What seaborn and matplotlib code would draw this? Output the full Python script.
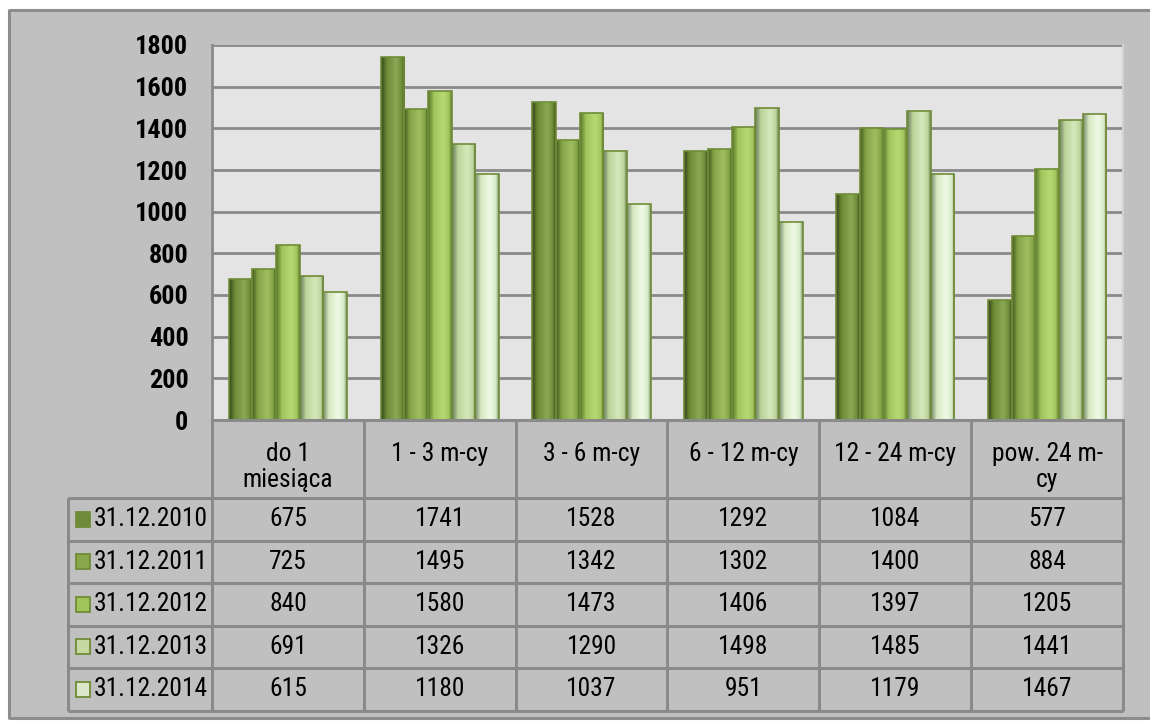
import os
import numpy as np
import pandas as pd
import matplotlib
matplotlib.use("Agg")
import matplotlib.pyplot as plt
import seaborn as sns
from matplotlib import font_manager
from matplotlib.font_manager import FontProperties
from matplotlib.patches import Rectangle
from matplotlib.colors import LinearSegmentedColormap

# ---- data -------------------------------------------------------------
categories = ["do 1\nmiesiąca", "1 - 3 m-cy", "3 - 6 m-cy",
              "6 - 12 m-cy", "12 - 24 m-cy", "pow. 24 m-\ncy"]
series_labels = ["31.12.2010", "31.12.2011", "31.12.2012",
                 "31.12.2013", "31.12.2014"]
v2010 = [675, 1741, 1528, 1292, 1084, 577]
v2011 = [725, 1495, 1342, 1302, 1400, 884]
v2012 = [840, 1580, 1473, 1406, 1397, 1205]
v2013 = [691, 1326, 1290, 1498, 1485, 1441]
v2014 = [615, 1180, 1037, 951, 1179, 1467]
y_ticks = [0, 200, 400, 600, 800, 1000, 1200, 1400, 1600, 1800]

series_values = [v2010, v2011, v2012, v2013, v2014]


# ---- narrow font lookup -----------------------------------------------
def narrow_font(bold):
    """Return (FontProperties, size scale) for the narrowest good sans."""
    fonts = font_manager.fontManager.ttflist

    def is_bold(f):
        w = f.weight if isinstance(f.weight, int) else \
            {"bold": 700, "normal": 400, "regular": 400}.get(str(f.weight), 400)
        return (w >= 600) == bold and f.style == "normal"

    # (predicate, size factor)
    prefs = [
        (lambda f: "Narrow" in os.path.basename(f.fname)
         and ("Liberation" in f.name or "Arial" in f.name), 1.0),
        (lambda f: f.name.startswith("Noto Sans") and "CJK" not in f.name
         and f.stretch == "condensed"
         and "Condensed" in os.path.basename(f.fname)
         and "Extra" not in os.path.basename(f.fname)
         and "Semi" not in os.path.basename(f.fname), 0.95),
        (lambda f: f.name.startswith("Open Sans") and "Condensed"
         in os.path.basename(f.fname) and "Semi" not in
         os.path.basename(f.fname), 0.92),
        (lambda f: "RobotoCondensed" in os.path.basename(f.fname), 1.02),
        (lambda f: "DejaVuSansCondensed" in os.path.basename(f.fname)
         and "Oblique" not in os.path.basename(f.fname), 0.86),
    ]
    for pred, scale in prefs:
        for f in fonts:
            try:
                if pred(f) and is_bold(f):
                    return FontProperties(fname=f.fname), scale
            except Exception:
                continue
    return FontProperties(family=["Liberation Sans", "DejaVu Sans"],
                          weight="bold" if bold else "normal"), 0.82


fp_reg, scale_reg = narrow_font(False)
fp_bold, scale_bold = narrow_font(True)
SIZE_CELL = 18 * scale_reg
SIZE_TICK = 18.5 * scale_bold


def fprop(base, size):
    p = base.copy()
    p.set_size(size)
    return p


swatch = ["#6f8a3a", "#89a64a", "#a2c25a", "#c5d9a2", "#dae7c9"]
# dark edge / body / highlight for the cylinder-like shading of each series
shades = [
    ("#34451a", "#6e8b37", "#8ca857"),
    ("#435a20", "#86a547", "#a0be61"),
    ("#557328", "#a1c55b", "#b8d974"),
    ("#687858", "#bcd49b", "#d5e8ba"),
    ("#7a876e", "#d6eac2", "#f0f9e7"),
]
edge_col = "#6f8c36"
bg_col = "#c0c0c0"
plot_bg = "#e4e4e4"
line_col = "#8a8a8a"

W, H = 1150, 722
fig = plt.figure(figsize=(W / 100, H / 100), dpi=100)
fig.patch.set_facecolor("white")

# ---- background frame -------------------------------------------------
bg = fig.add_axes([0, 0, 1, 1], zorder=-5)
bg.axis("off")
bg.add_patch(Rectangle((9, 10), W, 708, facecolor=bg_col,
                       edgecolor="none"))
frame_kw = dict(color="#8c8c8c", lw=2.2, solid_capstyle="butt")
bg.plot([9, W + 5], [10, 10], **frame_kw)
bg.plot([9, 9], [9, 719], **frame_kw)
bg.plot([9, W + 5], [718, 718], **frame_kw)
shadow = LinearSegmentedColormap.from_list("sh", ["#8e8e8e", bg_col])
bg.imshow(np.linspace(0, 1, 64)[None, :], extent=(10, 26, 717, 11),
          cmap=shadow, aspect="auto", interpolation="bilinear")
bg.imshow(np.linspace(0, 1, 64)[:, None], extent=(10, W + 5, 11, 18),
          cmap=shadow, aspect="auto", interpolation="bilinear")
bg.imshow(np.linspace(1, 0, 64)[:, None], extent=(10, W + 5, 708, 717),
          cmap=shadow, aspect="auto", interpolation="bilinear")
bg.set_xlim(0, W)
bg.set_ylim(H, 0)

# ---- bars -------------------------------------------------------------
ax_left, ax_right, ax_top, ax_bottom = 212, 1123, 45, 420
ax = fig.add_axes([ax_left / W, 1 - ax_bottom / H,
                   (ax_right - ax_left) / W, (ax_bottom - ax_top) / H])
ax.set_facecolor(plot_bg)

df = pd.DataFrame({
    "kategoria": np.repeat(categories, len(series_labels)),
    "stan": series_labels * len(categories),
    "liczba": [series_values[s][c] for c in range(len(categories))
               for s in range(len(series_labels))],
})
sns.barplot(data=df, x="kategoria", y="liczba", hue="stan",
            order=categories, hue_order=series_labels,
            palette=swatch, saturation=1, width=0.78, gap=0,
            edgecolor=edge_col, linewidth=1.2, legend=False, ax=ax,
            zorder=2)

profile = np.linspace(0, 1, 128)[None, :]
for container, (dark, body, light) in zip(ax.containers, shades):
    cmap = LinearSegmentedColormap.from_list(
        "cyl", [(0.0, dark), (0.25, body), (0.64, light), (0.88, body),
                (1.0, dark)])
    for bar in container:
        x0, w, h = bar.get_x(), bar.get_width(), bar.get_height()
        im = ax.imshow(profile, extent=(x0, x0 + w, 0, h), cmap=cmap,
                       aspect="auto", interpolation="bilinear", zorder=2.5)
        im.set_clip_path(bar)
        bar.set_facecolor("none")
        bar.set_zorder(3)

ax.set_xlim(-0.5, len(categories) - 0.5)
ax.set_ylim(0, 1800)
ax.set_aspect("auto")
ax.set_yticks(y_ticks)
ax.set_yticklabels([str(t) for t in y_ticks])
for lab in ax.get_yticklabels():
    lab.set_fontproperties(fprop(fp_bold, SIZE_TICK))
ax.tick_params(axis="y", length=0, pad=17)
ax.set_xticks([])
ax.set_xlabel("")
ax.set_ylabel("")
ax.grid(axis="y", color=line_col, linewidth=2.0, zorder=1)
ax.set_axisbelow(True)
for side in ("top", "bottom"):
    ax.spines[side].set_visible(False)
ax.spines["left"].set_color(line_col)
ax.spines["left"].set_linewidth(2.0)
ax.spines["right"].set_color("#d2d2d2")
ax.spines["right"].set_linewidth(1.5)

# ---- data table below the axis ----------------------------------------
tab = fig.add_axes([0, 0, 1, 1], zorder=4)
tab.set_xlim(0, W)
tab.set_ylim(0, H)
tab.axis("off")
tab.patch.set_alpha(0)

to_px = ax.transData
col_edges = [to_px.transform((i - 0.5, 0))[0] for i in range(len(categories) + 1)]
y_axis0 = to_px.transform((0, 0))[1]
header_h = 78
row_h = 42.5
label_left = 68
row_tops = [y_axis0 - header_h - r * row_h for r in range(len(series_labels) + 1)]
table_bottom = row_tops[-1]

lw = 2.2
for x in col_edges:
    tab.plot([x, x], [y_axis0, table_bottom], color=line_col, lw=lw,
             solid_capstyle="butt")
tab.plot([col_edges[0], col_edges[-1]], [y_axis0, y_axis0], color=line_col,
         lw=lw)
tab.plot([label_left, label_left], [row_tops[0], table_bottom],
         color=line_col, lw=lw, solid_capstyle="butt")
for y in row_tops:
    tab.plot([label_left, col_edges[-1]], [y, y], color=line_col, lw=lw,
             solid_capstyle="butt")

cell_fp = fprop(fp_reg, SIZE_CELL)
for i, cat in enumerate(categories):
    cx = (col_edges[i] + col_edges[i + 1]) / 2
    tab.text(cx, y_axis0 - 22, cat, ha="center", va="top",
             fontproperties=cell_fp, linespacing=1.1, color="black")

for r, (lab, vals) in enumerate(zip(series_labels, series_values)):
    cy = (row_tops[r] + row_tops[r + 1]) / 2
    tab.add_patch(Rectangle((76, cy - 7.5), 14, 15, facecolor=swatch[r],
                            edgecolor=edge_col, linewidth=1.3))
    tab.text(94, cy, lab, ha="left", va="center", fontproperties=cell_fp,
             color="black")
    for i, v in enumerate(vals):
        cx = (col_edges[i] + col_edges[i + 1]) / 2
        tab.text(cx, cy, str(v), ha="center", va="center",
                 fontproperties=cell_fp, color="black")

fig.savefig("out.png", dpi=100, facecolor=fig.get_facecolor())
